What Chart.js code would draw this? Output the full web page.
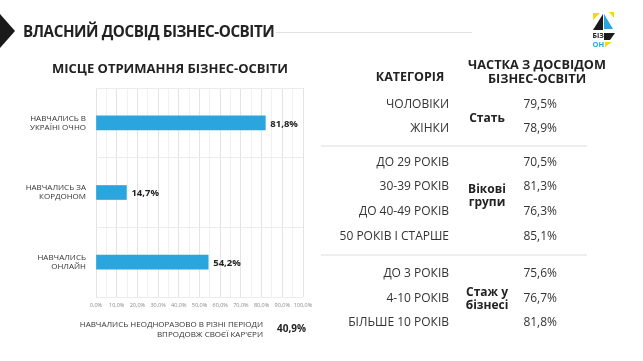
<!DOCTYPE html>
<html>
<head>
<meta charset="utf-8">
<script src="https://cdn.jsdelivr.net/npm/chart.js@4"></script>
<style>
  body { margin: 0; background: #fff; font-family: "Open Sans", sans-serif; color: #333; }
  #wrap { position: relative; width: 643px; height: 361px; overflow: hidden; }
  #canvas { position: absolute; left: 0; top: 0; }
  .t { position: absolute; white-space: nowrap; line-height: 1; }
  .b { font-weight: 700; color: #222; }
  .r { text-align: right; }
  .c { text-align: center; }
  .hr { position: absolute; height: 2px; background: #eeeeee; }
</style>
</head>
<body>
<div id="wrap">
  <canvas id="canvas" width="643" height="361"></canvas>

  <div style="position:absolute;left:0;top:14px;width:15px;height:34px;background:#1a1a1a;clip-path:polygon(0 0,0 0,100% 50%,0 100%,0 100%);"></div>
  <div class="t b" style="left:23px;top:24px;font-size:15.2px;letter-spacing:-0.45px;">ВЛАСНИЙ ДОСВІД БІЗНЕС-ОСВІТИ</div>
  <div class="hr" style="left:276px;top:32px;width:196px;height:1px;background:#e2e2e2;"></div>

  <svg style="position:absolute;left:585px;top:8px;" width="36" height="44" viewBox="0 0 36 44">
    <polygon points="8,5 15,5 8,12" fill="#f5d90a"/>
    <polygon points="8,22 18,6 18,22" fill="#1a1a1a"/>
    <polygon points="19,6 28,21 19,21" fill="#2aa5de"/>
    <polygon points="24,4 29,4 29,10" fill="#f5d90a"/>
    <polygon points="19,25 30,25 25,32 19,32" fill="#1a1a1a"/>
    <polygon points="20,34 27,34 20,39" fill="#f5d90a"/>
    <text x="7.5" y="30" font-family="Open Sans" font-weight="700" font-size="7" fill="#1a1a1a">БІЗ</text>
    <text x="7.5" y="39" font-family="Open Sans" font-weight="700" font-size="7.5" fill="#2aa5de">ОН</text>
  </svg>

  <div class="t b c" style="left:40px;width:260px;top:62px;font-size:13px;">МІСЦЕ ОТРИМАННЯ БІЗНЕС-ОСВІТИ</div>

  <div class="t r" style="left:60px;width:203px;top:319px;font-size:8px;line-height:10px;color:#333;">НАВЧАЛИСЬ НЕОДНОРАЗОВО В РІЗНІ ПЕРІОДИ<br>ВПРОДОВЖ СВОЄЇ КАР'ЄРИ</div>
  <div class="t b" id="multi" style="left:277px;top:323px;font-size:10px;"></div>

  <div class="t b c" style="left:360px;width:100px;top:71px;font-size:12.5px;">КАТЕГОРІЯ</div>
  <div class="t b c" style="left:467px;width:140px;top:57px;font-size:12.7px;line-height:14px;">ЧАСТКА З ДОСВІДОМ<br>БІЗНЕС-ОСВІТИ</div>

  <div id="table"></div>
</div>

<script>
"use strict"

/* Data */
let places = [["НАВЧАЛИСЬ В", "УКРАЇНІ ОЧНО"], ["НАВЧАЛИСЬ ЗА", "КОРДОНОМ"], ["НАВЧАЛИСЬ", "ОНЛАЙН"]];
let placeShares = [81.8, 14.7, 54.2];
let multiShare = 40.9;

let xTicks = ["0,0%", "10,0%", "20,0%", "30,0%", "40,0%", "50,0%", "60,0%", "70,0%", "80,0%", "90,0%", "100,0%"];

let genderRows = ["ЧОЛОВІКИ", "ЖІНКИ"];
let genderShares = [79.5, 78.9];
let ageRows = ["ДО 29 РОКІВ", "30-39 РОКІВ", "ДО 40-49 РОКІВ", "50 РОКІВ І СТАРШЕ"];
let ageShares = [70.5, 81.3, 76.3, 85.1];
let stageRows = ["ДО 3 РОКІВ", "4-10 РОКІВ", "БІЛЬШЕ 10 РОКІВ"];
let stageShares = [75.6, 76.7, 81.8];


/* Colors */
let blue = "#2aa5de";
let darkText = "#222";
let gridColor = "#ececec";


function pct(v) {
    return v.toFixed(1).replace(".", ",") + "%";
}


/* right table */
function buildTable() {
    let groups = [
        { title: ["Стать"], rows: genderRows, values: genderShares, ys: [105, 129], titleY: 117 },
        { title: ["Вікові", "групи"], rows: ageRows, values: ageShares, ys: [163, 187, 212, 237], titleY: 195 },
        { title: ["Стаж у", "бізнесі"], rows: stageRows, values: stageShares, ys: [274, 299, 323], titleY: 298 },
    ];
    let html = "";
    groups.forEach(g => {
        g.rows.forEach((row, i) => {
            html += `<div class="t r" style="left:300px;width:149px;top:${g.ys[i] - 7}px;font-size:12px;">${row}</div>`;
            html += `<div class="t r" style="left:500px;width:57px;top:${g.ys[i] - 7}px;font-size:12px;">${pct(g.values[i])}</div>`;
        });
        let h = g.title.length * 13;
        html += `<div class="t b c" style="left:456px;width:62px;top:${g.titleY - h / 2}px;font-size:12px;line-height:13px;">${g.title.join("<br>")}</div>`;
    });
    html += `<div class="hr" style="left:321px;top:145px;width:266px;"></div>`;
    html += `<div class="hr" style="left:321px;top:254px;width:266px;"></div>`;
    document.getElementById("table").innerHTML = html;
    document.getElementById("multi").textContent = pct(multiShare);
}


const valueLabels = {
    id: "valueLabels",
    afterDatasetsDraw(chart) {
        const ctx = chart.ctx;
        const meta = chart.getDatasetMeta(0);
        ctx.save();
        ctx.font = "bold 9.5px 'Open Sans'";
        ctx.fillStyle = darkText;
        ctx.textBaseline = "middle";
        meta.data.forEach((bar, i) => {
            ctx.fillText(pct(placeShares[i]), bar.x + 5, bar.y + 1);
        });
        ctx.restore();
    }
};


function createChart() {
    const canvas = document.getElementById("canvas").getContext("2d");
    const myChart = new Chart(canvas, {
        type: "bar",
        data: {
            labels: places,
            datasets: [{
                data: placeShares,
                backgroundColor: blue,
                barThickness: 14,
            }]
        },
        plugins: [valueLabels],
        options: {
            indexAxis: "y",
            responsive: false,
            animation: false,
            layout: {
                padding: { top: 88, right: 340, left: 0, bottom: 0 }
            },
            scales: {
                x: {
                    min: 0,
                    max: 100,
                    afterFit: scale => { scale.height = 64; },
                    border: { display: false },
                    grid: {
                        drawTicks: false,
                        color: ctx => ctx.tick && ctx.tick.value % 10 === 0 ? "#e4e4e4" : "#f1f1f1",
                    },
                    ticks: {
                        stepSize: 5,
                        padding: 5,
                        autoSkip: false,
                        maxRotation: 0,
                        color: "#888",
                        font: { family: "Open Sans", size: 5.5 },
                        callback: v => v % 10 === 0 ? xTicks[v / 10] : "",
                    }
                },
                y: {
                    afterFit: scale => { scale.width = 96; },
                    border: { display: false },
                    grid: {
                        drawTicks: false,
                        color: gridColor,
                    },
                    ticks: {
                        padding: 10,
                        color: "#333",
                        font: { family: "Open Sans", size: 8, lineHeight: 1.15 },
                    }
                }
            },
            plugins: {
                legend: { display: false },
                tooltip: { enabled: false }
            }
        }
    });
}


buildTable();
createChart();
</script>
</body>
</html>
